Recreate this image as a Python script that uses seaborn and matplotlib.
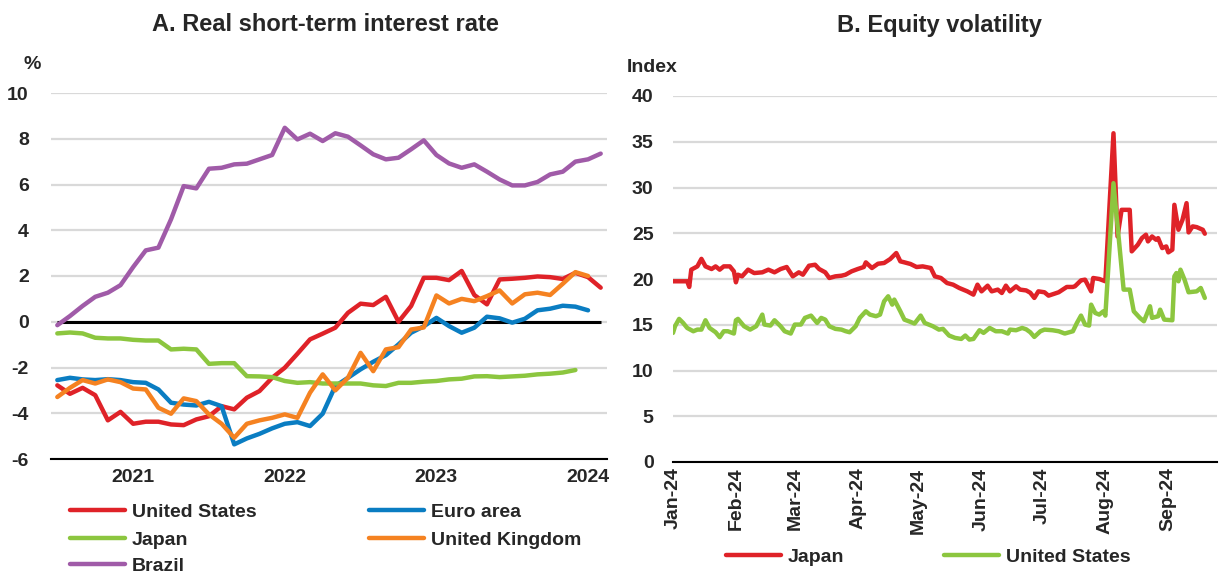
import matplotlib
matplotlib.use("Agg")
import matplotlib.pyplot as plt
import seaborn as sns
import numpy as np
import pandas as pd

# ---------------- Panel A data (monthly, Jan 2021 - Aug 2024) ----------------
months = pd.date_range("2021-01-01", periods=44, freq="MS")

us_rate = [-2.78, -3.15, -2.89, -3.21, -4.31, -3.94, -4.46, -4.37, -4.37, -4.49, -4.52, -4.27,
           -4.13, -3.69, -3.83, -3.32, -3.03, -2.45, -2.01, -1.40, -0.77, -0.52, -0.26, 0.39,
           0.79, 0.73, 1.09, 0.00, 0.69, 1.92, 1.92, 1.82, 2.22, 1.17, 0.76, 1.85,
           1.88, 1.92, 1.98, 1.95, 1.87, 2.14, 1.95, 1.49]
euro_rate = [-2.55, -2.45, -2.52, -2.55, -2.51, -2.55, -2.64, -2.67, -2.96, -3.54, -3.62, -3.66,
             -3.50, -3.69, -5.36, -5.10, -4.90, -4.66, -4.46, -4.39, -4.56, -4.02, -2.81, -2.45,
             -2.08, -1.75, -1.46, -0.99, -0.48, -0.20, 0.17, -0.19, -0.48, -0.26, 0.22, 0.15,
             -0.04, 0.13, 0.50, 0.57, 0.70, 0.66, 0.50]
japan_rate = [-0.51, -0.47, -0.51, -0.70, -0.73, -0.73, -0.79, -0.82, -0.82, -1.21, -1.18, -1.21,
              -1.84, -1.81, -1.81, -2.38, -2.39, -2.42, -2.59, -2.67, -2.64, -2.70, -2.70, -2.70,
              -2.70, -2.78, -2.81, -2.67, -2.67, -2.62, -2.59, -2.52, -2.49, -2.39, -2.38, -2.42,
              -2.39, -2.36, -2.30, -2.27, -2.22, -2.11]
uk_rate = [-3.29, -2.89, -2.55, -2.70, -2.52, -2.64, -2.92, -2.96, -3.76, -4.02, -3.35, -3.47,
           -4.05, -4.46, -5.07, -4.46, -4.31, -4.20, -4.05, -4.20, -3.10, -2.30, -3.00, -2.45,
           -1.36, -2.16, -1.21, -1.11, -0.34, -0.25, 1.15, 0.80, 1.00, 0.90, 1.12, 1.37,
           0.80, 1.20, 1.27, 1.17, 1.66, 2.17, 2.00]
brazil_rate = [-0.15, 0.25, 0.69, 1.09, 1.27, 1.60, 2.39, 3.12, 3.24, 4.48, 5.93, 5.83,
               6.69, 6.73, 6.88, 6.91, 7.10, 7.29, 8.48, 7.97, 8.22, 7.90, 8.24, 8.09,
               7.71, 7.32, 7.10, 7.17, 7.54, 7.93, 7.29, 6.92, 6.73, 6.88, 6.56, 6.22,
               5.96, 5.96, 6.11, 6.44, 6.56, 7.00, 7.10, 7.35]

a_names = ["United States", "Euro area", "Japan", "United Kingdom", "Brazil"]
a_values = [us_rate, euro_rate, japan_rate, uk_rate, brazil_rate]
a_colors = ["#DF2228", "#0A7DC2", "#8CC63F", "#F58221", "#A05BA8"]

# ---------------- Panel B data (daily, 2024; day offsets from 1 Jan 2024) ----------------
jp_day = [0, 7, 8, 9, 12, 14, 16, 19, 21, 23, 25, 28, 30, 31, 32, 34, 37, 40, 44, 47,
          50, 53, 56, 59, 62, 64, 67, 70, 72, 75, 77, 80, 83, 85, 88, 91, 94, 95, 98, 101,
          104, 107, 110, 112, 114, 117, 120, 123, 127, 129, 132, 135, 138, 141, 145, 148, 150, 152, 155, 157,
          160, 162, 164, 166, 169, 171, 174, 176, 178, 180, 183, 185, 188, 190, 192, 194, 197, 198, 201, 203,
          206, 207, 210, 213, 217, 219, 221, 225, 226, 229, 231, 233, 234, 236, 238, 239, 241, 243, 244, 246,
          247, 249, 251, 253, 254, 256, 258, 261, 262]
jp_vol = [19.75, 19.75, 19.13, 21.02, 21.38, 22.20, 21.38, 21.09, 21.38, 21.02,
          21.38, 21.38, 20.84, 19.64, 20.47, 20.29, 21.02, 20.65, 20.73, 21.02,
          20.73, 21.09, 21.31, 20.29, 20.73, 20.47, 21.45, 21.56, 21.09, 20.73,
          20.11, 20.29, 20.36, 20.47, 20.84, 21.09, 21.31, 21.82, 21.20, 21.67,
          21.75, 22.18, 22.84, 21.93, 21.82, 21.64, 21.31, 21.38, 21.20, 20.29,
          20.11, 19.56, 19.38, 19.02, 18.65, 18.29, 19.38, 18.65, 19.27, 18.65,
          18.84, 18.47, 19.27, 18.65, 19.20, 18.84, 18.75, 18.50, 17.93, 18.65,
          18.55, 18.18, 18.40, 18.55, 18.84, 19.13, 19.13, 19.20, 19.85, 19.93,
          18.65, 20.11, 20.00, 19.75, 35.93, 24.65, 27.56, 27.56, 23.02, 23.75,
          24.47, 24.84, 24.11, 24.65, 24.29, 24.47, 23.38, 23.56, 22.91, 23.20,
          28.11, 25.38, 26.47, 28.29, 25.09, 25.75, 25.67, 25.38, 24.95]

us_day = [0, 1, 3, 5, 7, 10, 12, 14, 16, 18, 21, 23, 25, 27, 30, 31, 32, 35, 38, 41,
          44, 45, 48, 50, 53, 55, 58, 60, 63, 65, 68, 71, 73, 75, 77, 80, 83, 85, 87, 90,
          92, 95, 97, 100, 102, 104, 106, 108, 109, 112, 114, 117, 119, 122, 124, 128, 131, 133, 136, 139,
          142, 144, 146, 148, 151, 153, 156, 159, 162, 165, 166, 169, 172, 174, 176, 178, 181, 183, 187, 190,
          193, 197, 199, 201, 203, 205, 206, 208, 210, 212, 213, 217, 222, 225, 227, 230, 232, 235, 236, 239,
          240, 242, 246, 247, 248, 249, 250, 252, 254, 258, 260, 262]
us_vol = [14.11, 14.84, 15.64, 15.20, 14.65, 14.29, 14.47, 14.47, 15.49, 14.65,
          14.18, 13.64, 14.29, 14.29, 14.04, 15.49, 15.64, 14.84, 14.47, 14.84,
          16.11, 15.02, 14.91, 15.49, 14.84, 14.29, 14.04, 15.02, 15.02, 15.75,
          16.00, 15.20, 15.75, 15.56, 14.84, 14.55, 14.47, 14.30, 14.18, 14.84,
          15.75, 16.47, 16.11, 15.93, 16.11, 17.56, 18.11, 17.20, 17.75, 16.47,
          15.56, 15.31, 15.13, 16.00, 15.20, 14.84, 14.47, 14.55, 13.82, 13.56,
          13.45, 13.82, 13.38, 13.45, 14.40, 14.11, 14.65, 14.29, 14.29, 14.04,
          14.47, 14.40, 14.65, 14.50, 14.18, 13.67, 14.29, 14.47, 14.40, 14.29,
          14.04, 14.29, 15.20, 16.00, 15.02, 14.91, 17.20, 16.29, 16.11, 16.47,
          16.00, 30.47, 18.84, 18.84, 16.47, 15.75, 15.38, 17.02, 15.75, 15.93,
          16.65, 15.56, 15.49, 20.29, 20.65, 19.75, 21.02, 19.93, 18.55, 18.65,
          19.02, 17.93]

b_start = pd.Timestamp("2024-01-01")
b_names = ["Japan", "United States"]
b_days = [jp_day, us_day]
b_values = [jp_vol, us_vol]
b_colors = ["#DF2228", "#8CC63F"]

# ---------------- Figure ----------------
sns.set_style("white")
plt.rcParams["font.family"] = ["Liberation Sans", "DejaVu Sans"]
plt.rcParams["font.weight"] = "bold"
plt.rcParams["axes.unicode_minus"] = False

W, H = 1219, 578
fig = plt.figure(figsize=(W / 100, H / 100), dpi=100)


def px_box(l, t, r, b):
    return [l / W, 1 - b / H, (r - l) / W, (b - t) / H]


axA = fig.add_axes(px_box(51, 93, 607, 459))
axB = fig.add_axes(px_box(673, 96, 1217, 462))

FS = 14
GRID = "#D9D9D9"

# Panel A lines
n_months = len(months)
axA.hlines(0, 0, n_months - 1, color="black", lw=2.2, zorder=2)
for name, vals, col in zip(a_names, a_values, a_colors):
    sns.lineplot(x=np.arange(len(vals)), y=vals, color=col, linewidth=3.2, label=name,
                 ax=axA, errorbar=None, legend=False, solid_capstyle="round", zorder=3)

# Panel B lines
for name, days, vals, col in zip(b_names, b_days, b_values, b_colors):
    dates = b_start + pd.to_timedelta(days, unit="D")
    sns.lineplot(x=dates, y=vals, color=col, linewidth=3.2, label=name,
                 ax=axB, errorbar=None, legend=False, solid_capstyle="round", zorder=3)

for ax in (axA, axB):
    ax.set_xlabel("")
    ax.set_ylabel("")
    for s in ("top", "right", "left"):
        ax.spines[s].set_visible(False)
    ax.spines["bottom"].set_color("black")
    ax.spines["bottom"].set_linewidth(1.5)
    ax.spines["bottom"].set_zorder(4)
    ax.grid(axis="y", color=GRID, lw=1.6)
    ax.grid(axis="x", visible=False)
    ax.set_axisbelow(True)
    ax.tick_params(axis="x", which="major", direction="in", length=5, width=1.3,
                   color="black", labelsize=FS)

# Panel A axes
axA.set_ylim(-6, 10)
axA.set_yticks(range(-6, 11, 2))
axA.tick_params(axis="y", length=0, pad=16, labelsize=FS)
axA.set_xlim(-0.5, n_months - 0.5)
year_first = [i for i, m in enumerate(months) if m.month == 1]
axA.set_xticks([i - 0.5 for i in year_first])
axA.set_xticklabels([])
axA.set_xticks([i + 6 for i in year_first], minor=True)
axA.set_xticklabels([str(months[i].year) for i in year_first], minor=True)
axA.tick_params(axis="x", which="minor", length=0, pad=7, labelsize=FS)

# Panel B axes
axB.set_ylim(0, 40)
axB.set_yticks(range(0, 41, 5))
axB.tick_params(axis="y", length=0, pad=14, labelsize=FS)
axB.set_xlim(b_start, b_start + pd.Timedelta(days=268))
mticks = pd.date_range("2024-01-01", "2024-09-01", freq="MS")
axB.set_xticks(mticks)
axB.set_xticklabels([d.strftime("%b-%y") for d in mticks], rotation=90)
axB.tick_params(axis="x", which="major", pad=4)

# Titles and unit labels
fig.text(325 / W, 1 - 31 / H, "A. Real short-term interest rate", ha="center", va="baseline",
         fontsize=17, fontweight="bold")
fig.text(939 / W, 1 - 32 / H, "B. Equity volatility", ha="center", va="baseline",
         fontsize=17, fontweight="bold")
fig.text(32 / W, 1 - 69 / H, "%", ha="center", va="baseline", fontsize=FS, fontweight="bold")
fig.text(652 / W, 1 - 72 / H, "Index", ha="center", va="baseline", fontsize=FS, fontweight="bold")

# Legends
hA = {l.get_label(): l for l in axA.get_lines()}
hB = {l.get_label(): l for l in axB.get_lines()}


def add_leg(handle, label, x, y):
    fig.legend([handle], [label], loc="center left", bbox_to_anchor=(x / W, 1 - y / H),
               frameon=False, borderpad=0, borderaxespad=0, handlelength=2.85,
               handletextpad=0.33, fontsize=FS)


add_leg(hA["United States"], "United States", 70, 512)
add_leg(hA["Euro area"], "Euro area", 369, 512)
add_leg(hA["Japan"], "Japan", 70, 540)
add_leg(hA["United Kingdom"], "United Kingdom", 369, 540)
add_leg(hA["Brazil"], "Brazil", 70, 566)
add_leg(hB["Japan"], "Japan", 726, 557)
add_leg(hB["United States"], "United States", 944, 557)

fig.savefig("out.png", dpi=100)
